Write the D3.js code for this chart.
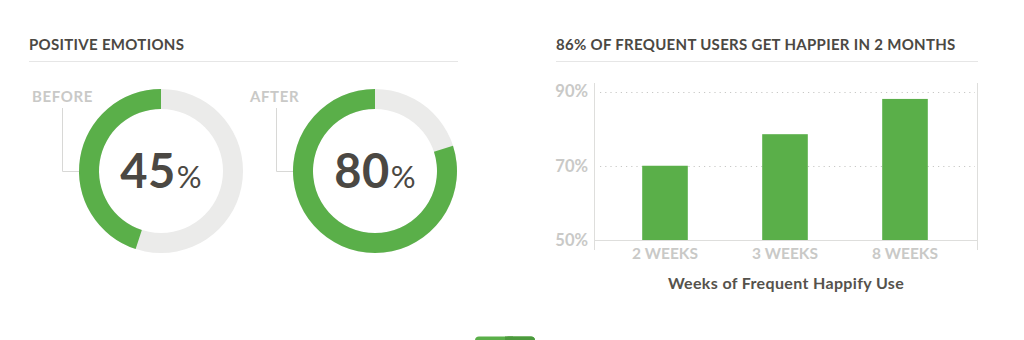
<!DOCTYPE html>
<html>
<head>
<meta charset="utf-8">
<script src="https://cdn.jsdelivr.net/npm/d3@7"></script>
<style>
  html, body { margin: 0; padding: 0; background: #fff; }
  svg { display: block; }
  text { font-family: Lato, "Open Sans", sans-serif; }
</style>
</head>
<body>
<svg id="chart" width="1024" height="340"></svg>
<script>
// Positive emotions before / after (share of users, %)
const donutLabels = ["BEFORE", "AFTER"];
const donutValues = [45, 80];

// Happiness by weeks of frequent use (%)
const weekCategories = ["2 WEEKS", "3 WEEKS", "8 WEEKS"];
const weekValues = [70, 78.5, 88];
const yTicks = [50, 70, 90];

const leftTitle = "POSITIVE EMOTIONS";
const rightTitle = "86% OF FREQUENT USERS GET HAPPIER IN 2 MONTHS";
const xAxisTitle = "Weeks of Frequent Happify Use";

const GREEN = "#5aaf49";
const TRACK = "#ebebea";
const DARK = "#4b4843";
const LIGHT = "#c9c9c7";
const RULE = "#e6e6e6";

const svg = d3.select("#chart");

// ---- section titles with underline rules ----
function sectionTitle(x, x2, text) {
  svg.append("text")
    .attr("x", x).attr("y", 50)
    .attr("fill", DARK)
    .attr("font-size", 15)
    .attr("font-weight", 700)
    .attr("letter-spacing", 0.3)
    .text(text);
  svg.append("line")
    .attr("x1", x).attr("x2", x2)
    .attr("y1", 61.5).attr("y2", 61.5)
    .attr("stroke", RULE).attr("stroke-width", 1.2);
}
sectionTitle(29, 458, leftTitle);
sectionTitle(556, 978, rightTitle);

// ---- donuts ----
const donutX = d3.scalePoint().domain(donutLabels).range([161, 375]);
const cy = 171, rOuter = 82, rInner = 62;
const arc = d3.arc().innerRadius(rInner).outerRadius(rOuter);
const frac = d3.scaleLinear().domain([0, 100]).range([0, 2 * Math.PI]);

donutLabels.forEach((lab, i) => {
  const cx = donutX(lab);
  const g = svg.append("g").attr("transform", `translate(${cx},${cy})`);
  g.append("path")
    .attr("d", arc({ startAngle: 0, endAngle: 2 * Math.PI }))
    .attr("fill", TRACK);
  g.append("path")
    .attr("d", arc({ startAngle: -frac(donutValues[i]), endAngle: 0 }))
    .attr("fill", GREEN);

  const t = g.append("text")
    .attr("text-anchor", "middle")
    .attr("y", 17)
    .attr("fill", DARK);
  t.append("tspan").attr("font-size", 47).attr("font-weight", 700).attr("letter-spacing", 0.5).text(donutValues[i]);
  t.append("tspan").attr("font-size", 31).attr("font-weight", 400).attr("dx", 1).text("%");

  // label with elbow leader line to the ring
  svg.append("text")
    .attr("x", cx - 129 + (i === 1 ? 4 : 0)).attr("y", 102)
    .attr("fill", LIGHT)
    .attr("font-size", 15)
    .attr("font-weight", 700)
    .attr("letter-spacing", 0.6)
    .text(lab);
  const vx = cx - rOuter - 16 - 0.5;
  svg.append("path")
    .attr("d", `M${vx},108 V${cy + 0.5} H${cx - rOuter}`)
    .attr("fill", "none")
    .attr("stroke", "#d8d8d6")
    .attr("stroke-width", 1);
});

// ---- bar chart ----
const plotLeft = 594, plotRight = 977, plotTop = 83, plotBottom = 250;
const x = d3.scaleBand().domain(weekCategories).range([605, 965])
  .paddingInner(0.62).paddingOuter(0.31);
const y = d3.scaleLinear().domain([50, 90]).range([240, 91.5]);

// frame verticals
[plotLeft, plotRight].forEach(px => {
  svg.append("line")
    .attr("x1", px + 0.5).attr("x2", px + 0.5)
    .attr("y1", plotTop).attr("y2", plotBottom)
    .attr("stroke", "#dededc").attr("stroke-width", 1);
});

// dotted gridlines
svg.append("g").selectAll("line")
  .data(yTicks.filter(v => v > 50))
  .join("line")
  .attr("x1", plotLeft + 6).attr("x2", plotRight - 2)
  .attr("y1", d => Math.round(y(d)) + 0.5).attr("y2", d => Math.round(y(d)) + 0.5)
  .attr("stroke", "#c8c8c6")
  .attr("stroke-width", 1.2)
  .attr("stroke-dasharray", "1.2,4");

// bars
svg.append("g").selectAll("rect")
  .data(weekCategories)
  .join("rect")
  .attr("x", d => x(d))
  .attr("width", x.bandwidth())
  .attr("y", (d, i) => y(weekValues[i]))
  .attr("height", (d, i) => y(50) - y(weekValues[i]))
  .attr("fill", GREEN);

// baseline
svg.append("line")
  .attr("x1", plotLeft).attr("x2", plotRight)
  .attr("y1", y(50) + 0.5).attr("y2", y(50) + 0.5)
  .attr("stroke", "#dededc");

// y axis labels
const yAxis = d3.axisLeft(y).tickValues(yTicks).tickFormat(d => d + "%").tickSize(0).tickPadding(0);
const yg = svg.append("g").attr("transform", `translate(${plotLeft - 6},0)`).call(yAxis);
yg.select(".domain").remove();
yg.selectAll("text")
  .attr("fill", LIGHT)
  .attr("font-size", 16.5)
  .attr("font-weight", 700)
  .attr("font-family", "Lato, sans-serif");

// x axis labels
const xAxis = d3.axisBottom(x).tickSize(0).tickPadding(0);
const xg = svg.append("g").attr("transform", `translate(0,${y(50) + 8})`).call(xAxis);
xg.select(".domain").remove();
xg.selectAll("text")
  .attr("fill", LIGHT)
  .attr("font-size", 15.5)
  .attr("font-weight", 700)
  .attr("font-family", "Lato, sans-serif");

svg.append("text")
  .attr("x", 786).attr("y", 289)
  .attr("text-anchor", "middle")
  .attr("fill", "#55524c")
  .attr("font-size", 16)
  .attr("font-weight", 700)
  .attr("letter-spacing", 0.35)
  .text(xAxisTitle);

// partially visible action button at the bottom edge
const btn = svg.append("g");
btn.append("rect").attr("x", 475).attr("y", 336.5).attr("width", 60).attr("height", 12).attr("rx", 4).attr("fill", GREEN);
btn.append("rect").attr("x", 505).attr("y", 336.5).attr("width", 30).attr("height", 12).attr("rx", 4).attr("fill", "#4c9a3d");
btn.append("rect").attr("x", 505).attr("y", 336.5).attr("width", 8).attr("height", 12).attr("fill", "#4c9a3d");
</script>
</body>
</html>
